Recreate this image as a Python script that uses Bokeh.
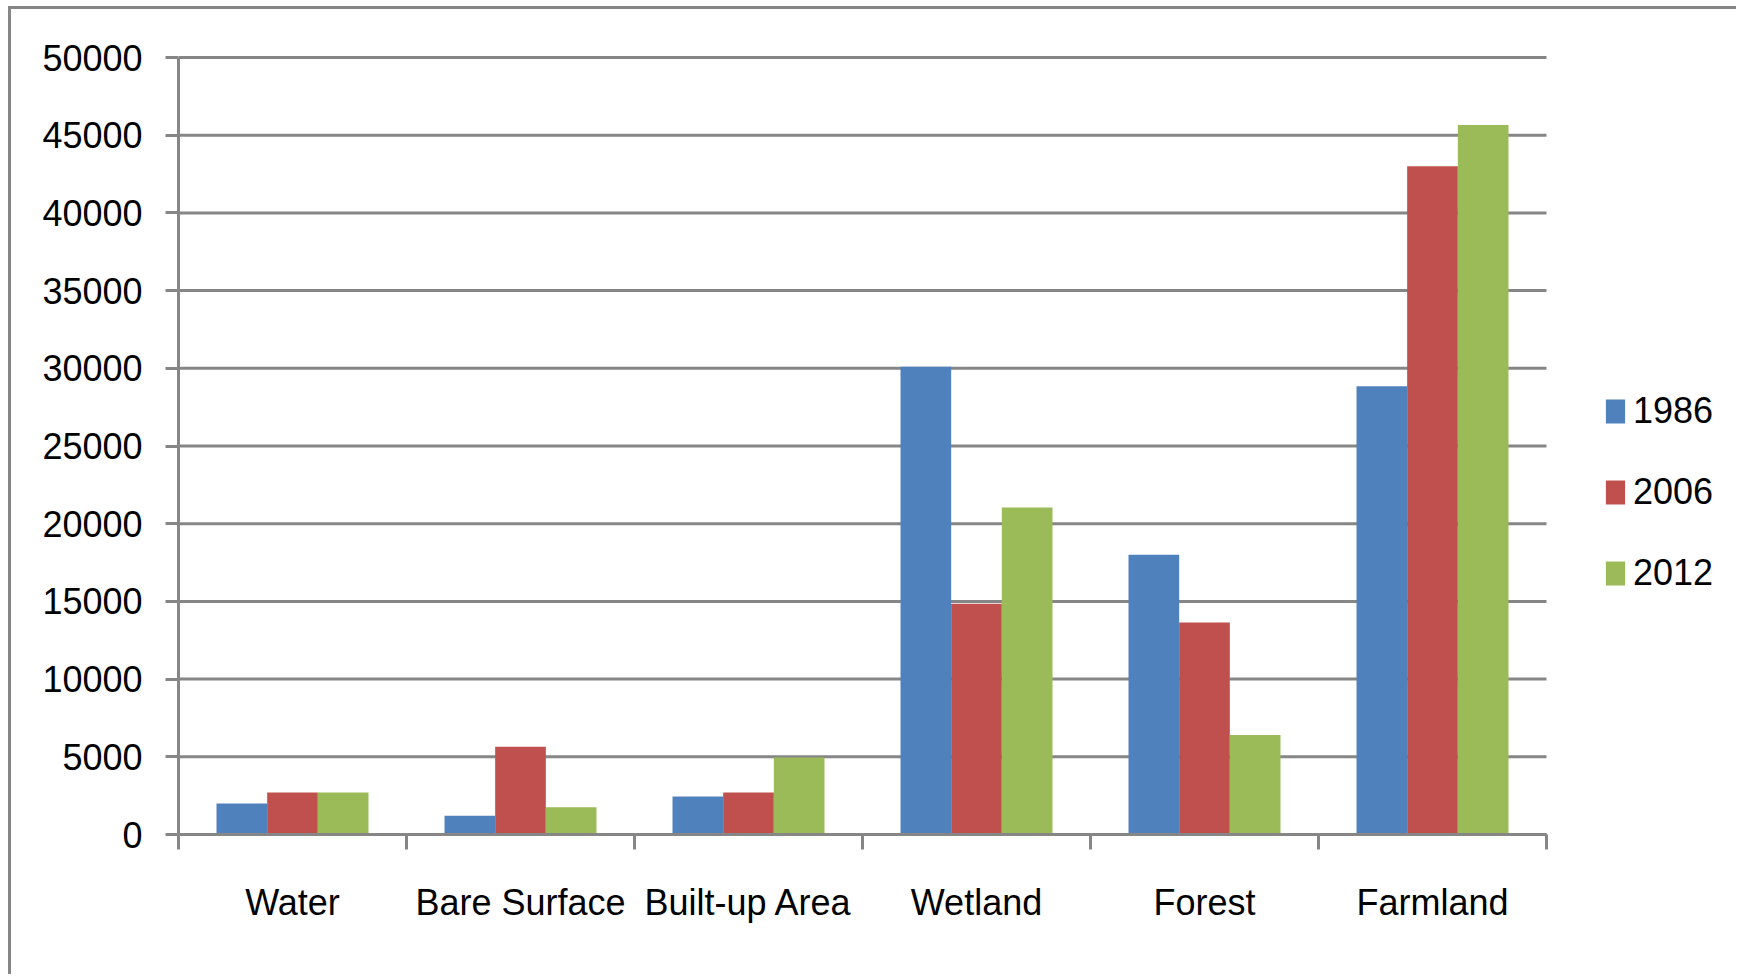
from bokeh.plotting import figure
from bokeh.models import (Range1d, FixedTicker, Legend, LegendItem, ColumnDataSource)
from bokeh.embed import file_html
from bokeh.resources import INLINE
from bokeh.transform import dodge

categories = ["Water", "Bare Surface", "Built-up Area", "Wetland", "Forest", "Farmland"]
years = ["1986", "2006", "2012"]
values_1986 = [2000, 1200, 2450, 30100, 18000, 28850]
values_2006 = [2700, 5650, 2700, 14850, 13650, 43000]
values_2012 = [2700, 1750, 4950, 21050, 6400, 45650]
colors = ["#4F81BD", "#C0504D", "#9BBB59"]
y_ticks = list(range(0, 50001, 5000))

FONT = "Liberation Sans"
FSIZE = "36px"
GRID = "#868686"

# canvas origin on the page (after the css border/margin below)
OX, OY = 11, 9
W, H = 1728, 968
PLOT_L, PLOT_R = 178, 1546          # page x of category axis ends
Y0, Y50 = 834, 57                   # page y of 0 and 50000
n = len(categories)
cat_px = (PLOT_R - PLOT_L) / n
x_end = (W - (PLOT_L - OX)) / cat_px
y_top = 50000 + 4 * 50000 / (Y0 - Y50)

p = figure(width=W, height=H, output_backend="svg", toolbar_location=None,
           x_range=Range1d(0, x_end), y_range=Range1d(0, y_top),
           min_border_left=PLOT_L - OX, min_border_right=0,
           min_border_top=Y50 - OY - 4, min_border_bottom=H - (Y0 - OY))
p.styles = {"border-left": "3px solid #868686", "border-top": "3px solid #868686",
            "margin-left": "8px", "margin-top": "6px"}
p.outline_line_color = None
p.background_fill_color = "white"
p.border_fill_color = "white"
p.xgrid.grid_line_color = None
p.ygrid.grid_line_color = None

# horizontal gridlines limited to the category span
p.segment(x0=[0] * len(y_ticks), x1=[n] * len(y_ticks), y0=y_ticks, y1=y_ticks,
          line_color=GRID, line_width=3)

centers = [i + 0.5 for i in range(n)]
src = ColumnDataSource(dict(x=centers, y1986=values_1986, y2006=values_2006, y2012=values_2012))

bw = 1 / 4.5
renderers = []
for k, (yr, col) in enumerate(zip(years, colors)):
    r = p.vbar(x=dodge("x", (k - 1) * bw, range=p.x_range), top="y" + yr, width=bw,
               bottom=0, source=src, fill_color=col, line_color=None)
    renderers.append(r)

# x axis
xa = p.xaxis[0]
xa.bounds = (0, n)
xa.ticker = FixedTicker(ticks=centers, minor_ticks=list(range(n + 1)))
xa.major_label_overrides = {c: nm for c, nm in zip(centers, categories)}
xa.major_tick_out = 0
xa.major_tick_in = 0
xa.minor_tick_out = 15
xa.minor_tick_in = 0
xa.minor_tick_line_color = GRID
xa.minor_tick_line_width = 3
xa.axis_line_color = GRID
xa.axis_line_width = 3
xa.major_label_text_font = FONT
xa.major_label_text_font_size = FSIZE
xa.major_label_text_color = "black"
xa.major_label_standoff = 32

# y axis
ya = p.yaxis[0]
ya.bounds = (0, 50000)
ya.ticker = FixedTicker(ticks=y_ticks)
ya.minor_tick_line_color = None
ya.major_tick_out = 13
ya.major_tick_in = 0
ya.major_tick_line_color = GRID
ya.major_tick_line_width = 3
ya.axis_line_color = GRID
ya.axis_line_width = 3
ya.major_label_text_font = FONT
ya.major_label_text_font_size = FSIZE
ya.major_label_text_color = "black"
ya.major_label_standoff = 23

legend = Legend(items=[LegendItem(label=yr, renderers=[r]) for yr, r in zip(years, renderers)],
                location=(1425, 240), orientation="vertical",
                glyph_width=24, glyph_height=30, label_standoff=6,
                label_text_font=FONT, label_text_font_size=FSIZE,
                label_text_color="black", spacing=39, padding=0, margin=0,
                border_line_color=None, background_fill_alpha=0)
p.add_layout(legend, "center")

open("out.html", "w").write(file_html(p, INLINE))
